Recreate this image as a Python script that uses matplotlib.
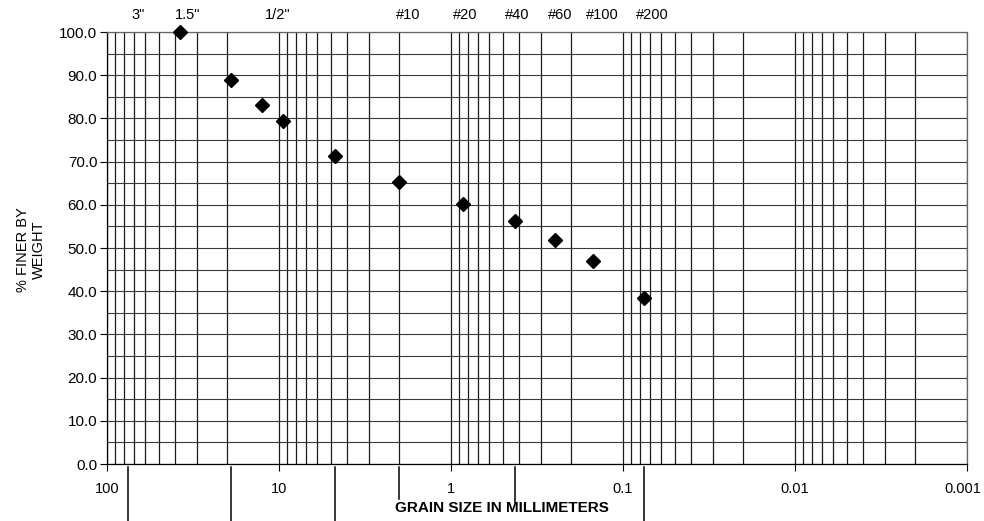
import numpy as np
import matplotlib
matplotlib.use("Agg")
import matplotlib.pyplot as plt
from matplotlib import transforms
from matplotlib.ticker import FixedLocator, LogLocator, NullFormatter

plt.rcParams['font.family'] = ['Liberation Sans', 'DejaVu Sans']

# sieve results (grain size in mm, % finer by weight)
grain_size = [37.5, 19.0, 12.5, 9.5, 4.75, 2.0, 0.85, 0.425, 0.25, 0.15, 0.075]
pct_finer = [100.0, 88.9, 83.0, 79.5, 71.3, 65.2, 60.2, 56.3, 51.9, 47.1, 38.4]

# sieve labels along the top
sieve_labels = ['3"', '1.5"', '1/2"', '#10', '#20', '#40', '#60', '#100', '#200']
sieve_sizes = [76.2, 38.1, 12.7, 2.0, 0.85, 0.425, 0.25, 0.15, 0.075]
label_shift_px = [11, 9, 17, 9, 2, 2, 6, 10, 8]

# soil classification boundaries (mm), drawn below the axis
class_bounds = [75.0, 19.0, 4.75, 2.0, 0.425, 0.075]
bound_depth = [-0.14, -0.14, -0.14, -0.08, -0.088, -0.14]

x_ticks = [100, 10, 1, 0.1, 0.01, 0.001]
x_ticklabels = ['100', '10', '1', '0.1', '0.01', '0.001']
y_ticks = np.arange(0, 101, 10)

fig = plt.figure(figsize=(9.84, 5.21), dpi=100)
ax = fig.add_axes([107 / 984, 1 - 464 / 521, 860 / 984, 432 / 521])

ax.set_xscale('log')
ax.set_xlim(100, 0.001)
ax.set_ylim(0, 100)

ax.xaxis.set_major_locator(FixedLocator(x_ticks))
ax.set_xticklabels(x_ticklabels)
ax.xaxis.set_minor_locator(LogLocator(base=10, subs=np.arange(2, 10)))
ax.xaxis.set_minor_formatter(NullFormatter())
ax.set_yticks(y_ticks)
ax.set_yticklabels([f"{v:.1f}" for v in y_ticks])
ax.set_yticks(np.arange(5, 100, 10), minor=True)

ax.grid(which='both', axis='x', color='#1a1a1a', linewidth=0.9)
ax.grid(which='both', axis='y', color='#3a3a3a', linewidth=0.8)
ax.set_axisbelow(True)

ax.tick_params(axis='both', which='major', labelsize=11, length=5, width=0.8, color='k')
ax.tick_params(axis='x', which='major', labelsize=10.5, pad=8)
ax.tick_params(axis='y', which='major', pad=2)
ax.tick_params(axis='both', which='minor', length=0)

# keep the last x tick label inside the figure
last = ax.get_xticklabels()[-1]
last.set_transform(last.get_transform() +
                   transforms.ScaledTranslation(-4 / 100, 0, fig.dpi_scale_trans))

for side in ['left', 'bottom']:
    ax.spines[side].set_color('k')
    ax.spines[side].set_linewidth(0.9)
for side in ['top', 'right']:
    ax.spines[side].set_color('#666666')
    ax.spines[side].set_linewidth(0.9)

ax.plot(grain_size, pct_finer, linestyle='none', marker='D', markersize=6.8,
        markerfacecolor='black', markeredgecolor='black', zorder=5, clip_on=False)

# sieve labels above the plot
blend = transforms.blended_transform_factory(ax.transData, ax.transAxes)
for lab, size, dx in zip(sieve_labels, sieve_sizes, label_shift_px):
    tr = transforms.offset_copy(blend, fig=fig, x=dx, y=0, units='dots')
    ax.text(size, 1.04, lab, transform=tr, ha='center', va='center', fontsize=10.5)

# classification boundary marks below the axis
for b, d in zip(class_bounds, bound_depth):
    ax.plot([b, b], [-0.008, d], transform=blend, color='k',
            linewidth=1.1, clip_on=False)

fig.text(502 / 984, 1 - 508 / 521, 'GRAIN SIZE IN MILLIMETERS',
         ha='center', va='center', fontsize=11, fontweight='bold')
fig.text(31 / 984, 1 - 250 / 521, '% FINER BY\nWEIGHT', rotation=90,
         ha='center', va='center', fontsize=10.5, linespacing=1.1)

fig.savefig('out.png', dpi=100)
